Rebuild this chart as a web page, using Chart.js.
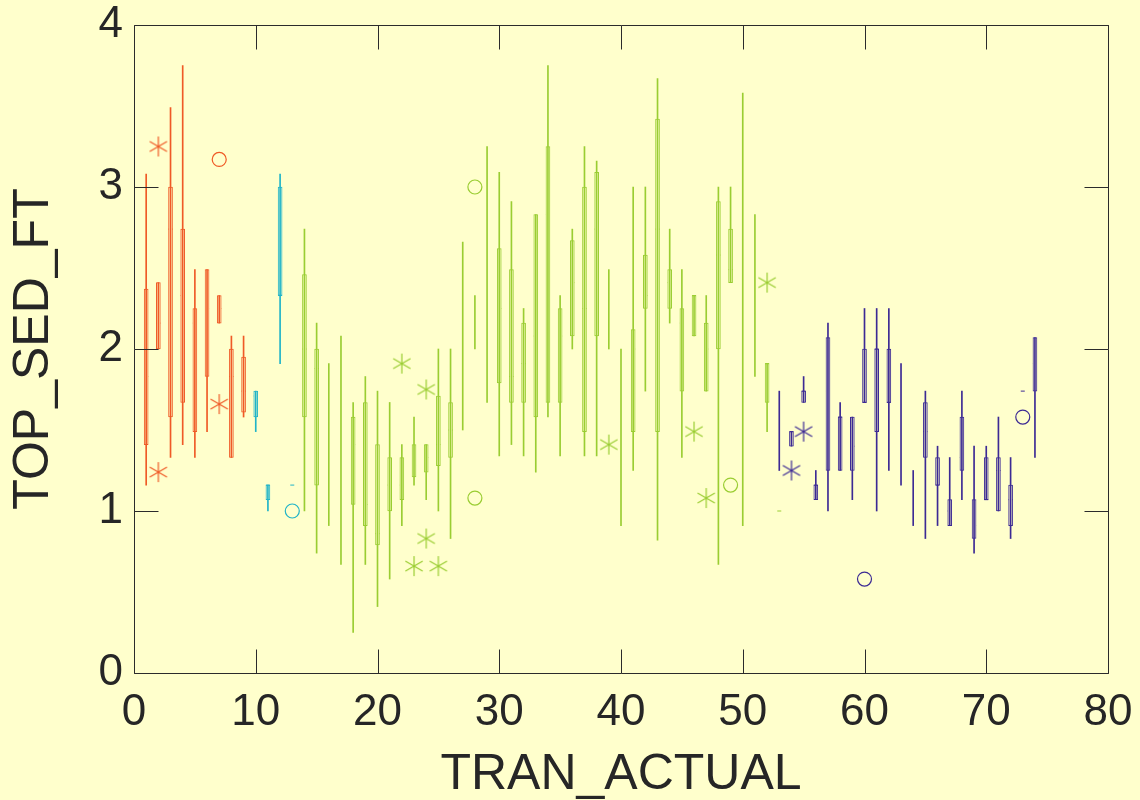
<!DOCTYPE html>
<html>
<head>
<meta charset="utf-8">
<script src="https://cdn.jsdelivr.net/npm/chart.js@4.4.0/dist/chart.umd.min.js"></script>
<style>
  html, body { margin: 0; padding: 0; background: #ffffcc; }
  #wrap { width: 1140px; height: 800px; }
</style>
</head>
<body>
<div id="wrap"><canvas id="chart" width="1140" height="800"></canvas></div>
<script>
// One entry per box: transect, colour group, whisker ends, box ends, median.
// null box = only the whisker shows (box collapsed to a line).
const tran = [1, 2, 3, 4, 5, 6, 7, 8, 9,
  10, 11, 12, 13,
  14, 15, 16, 17, 18, 19, 20, 21, 22, 23, 24, 25, 26, 27, 28, 29, 30, 31, 32, 33,
  34, 35, 36, 37, 38, 39, 40, 41, 42, 43, 44, 45, 46, 47, 48, 49, 50, 51, 52, 53,
  53, 54, 55, 56, 57, 58, 59, 60, 61, 62, 63, 64, 65, 66, 67, 68, 69, 70, 71, 72, 73, 74];
const group = ['r', 'r', 'r', 'r', 'r', 'r', 'r', 'r', 'r',
  'c', 'c', 'c', 'c',
  'g', 'g', 'g', 'g', 'g', 'g', 'g', 'g', 'g', 'g', 'g', 'g', 'g', 'g', 'g', 'g', 'g', 'g', 'g', 'g',
  'g', 'g', 'g', 'g', 'g', 'g', 'g', 'g', 'g', 'g', 'g', 'g', 'g', 'g', 'g', 'g', 'g', 'g', 'g', 'g',
  'p', 'p', 'p', 'p', 'p', 'p', 'p', 'p', 'p', 'p', 'p', 'p', 'p', 'p', 'p', 'p', 'p', 'p', 'p', 'p', 'p', 'p'];
const whiskerLo = [1.16, 2.00, 1.33, 1.41, 1.33, 1.49, 2.16, 1.33, 1.58,
  1.49, 1.00, 1.91, 1.16,
  1.00, 0.74, 0.91, 0.67, 0.25, 0.67, 0.41, 0.58, 0.91, 1.16, 1.07, 1.00, 0.83, 1.50, 2.00, 1.67, 1.34, 1.41, 1.34, 1.24,
  1.58, 1.34, 2.00, 1.34, 1.34, 2.00, 0.91, 1.25, 1.74, 0.82, 2.16, 1.33, 2.08, 1.74, 0.67, 2.41, 0.91, 1.83, 1.49, 1.00,
  1.25, 1.40, 1.67, 1.07, 1.00, 1.25, 1.07, 1.67, 1.00, 1.25, 1.16, 0.91, 0.83, 0.91, 0.91, 1.07, 0.74, 1.07, 1.00, 0.83, 1.74, 1.33];
const whiskerHi = [3.08, 2.41, 3.49, 3.75, 2.49, 2.49, 2.33, 2.08, 2.08,
  1.74, 1.16, 3.08, 1.16,
  2.74, 2.16, 1.91, 2.08, 1.67, 1.83, 1.74, 1.67, 1.41, 1.58, 1.41, 2.00, 2.00, 2.66, 2.33, 3.25, 3.09, 2.91, 2.25, 2.83,
  3.75, 2.33, 2.74, 3.25, 3.16, 2.49, 2.00, 3.00, 3.00, 3.67, 2.74, 2.49, 2.33, 2.33, 3.00, 3.00, 3.58, 2.83, 1.91, 1.00,
  1.74, 1.49, 1.83, 1.25, 2.16, 1.67, 1.58, 2.25, 2.25, 2.25, 1.91, 1.25, 1.74, 1.40, 1.33, 1.74, 1.40, 1.40, 1.58, 1.33, 1.74, 2.07];
const boxLo = [1.41, 2.00, 1.58, 1.67, 1.49, 1.83, 2.16, 1.33, 1.61,
  1.58, 1.07, 2.33, null,
  1.58, 1.16, null, null, 1.04, 0.91, 0.79, 1.00, 1.07, 1.21, 1.24, 1.28, 1.33, null, null, null, 1.79, 1.67, 1.67, 1.58,
  1.67, 1.67, 2.08, 1.49, 2.08, null, null, 1.49, 2.25, 1.49, 2.25, 1.74, 2.08, 1.74, 2.00, 2.41, null, null, 1.67, null,
  null, 1.40, 1.67, 1.07, 1.25, 1.25, 1.25, 1.67, 1.49, 1.67, null, null, 1.33, 1.16, 0.91, 1.25, 0.83, 1.07, 1.00, 0.91, null, 1.74];
const boxHi = [2.37, 2.41, 3.00, 2.74, 2.25, 2.49, 2.33, 2.00, 1.95,
  1.74, 1.16, 3.00, null,
  2.46, 2.00, null, null, 1.58, 1.67, 1.41, 1.33, 1.33, 1.41, 1.41, 1.71, 1.67, null, null, null, 2.62, 2.49, 2.16, 2.83,
  3.25, 2.25, 2.67, 3.00, 3.09, null, null, 2.12, 2.58, 3.42, 2.49, 2.25, 2.33, 2.16, 2.91, 2.74, null, null, 1.91, null,
  null, 1.49, 1.74, 1.16, 2.07, 1.58, 1.58, 2.00, 2.00, 2.00, null, null, 1.67, 1.33, 1.07, 1.58, 1.07, 1.33, 1.33, 1.16, null, 2.07];
const median = [1.83, 2.16, 2.74, 2.33, 2.16, 2.25, 2.25, 1.83, 1.74,
  1.71, 1.16, 2.33, 1.16,
  2.00, 1.88, null, null, 1.41, 1.04, 0.86, 1.16, 1.16, 1.28, 1.33, 1.41, 1.50, null, null, null, 2.25, 1.83, 1.91, 2.08,
  2.83, 2.08, 2.41, 2.25, 2.74, null, null, 2.00, 2.33, 2.74, 2.41, 2.16, 2.33, 2.00, 2.58, 2.49, null, null, 1.91, 1.00,
  null, 1.49, 1.74, 1.16, 1.74, 1.58, 1.40, 1.67, 2.00, 1.67, null, null, 1.49, 1.16, 1.00, 1.33, 0.91, 1.07, 1.25, 1.07, 1.74, 1.91];

// Outliers drawn as asterisks and circles
const starX = [2, 2, 7, 22, 23, 24, 24, 25, 39, 46, 47, 52, 54, 55];
const starY = [3.25, 1.24, 1.66, 1.91, 0.66, 1.75, 0.83, 0.66, 1.41, 1.49, 1.08, 2.41, 1.25, 1.49];
const starGroup = ['r', 'r', 'r', 'g', 'g', 'g', 'g', 'g', 'g', 'g', 'g', 'g', 'p', 'p'];
const circleX = [7, 13, 28, 28, 49, 60, 73];
const circleY = [3.17, 1.00, 3.00, 1.08, 1.16, 0.58, 1.58];
const circleGroup = ['r', 'c', 'g', 'g', 'g', 'p', 'p'];

const xTickValues = [0, 10, 20, 30, 40, 50, 60, 70, 80];
const yTickValues = [0, 1, 2, 3, 4];

const COLORS = { r: '#ef5a26', c: '#20b4c8', g: '#9acd32', p: '#3c2a94' };
const AXIS = '#2b2b2b';
const TEXT = '#262626';
const FONT = "'Liberation Sans', Arial, Helvetica, sans-serif";

// six-armed asterisk marker
function asterisk(color) {
    const c = document.createElement('canvas');
    c.width = c.height = 22;
    const g = c.getContext('2d');
    g.strokeStyle = color;
    g.lineWidth = 1.2;
    g.beginPath();
    for (let k = 0; k < 3; k++) {
        const a = Math.PI / 2 + k * Math.PI / 3;
        g.moveTo(11 - 10 * Math.cos(a), 11 - 10 * Math.sin(a));
        g.lineTo(11 + 10 * Math.cos(a), 11 + 10 * Math.sin(a));
    }
    g.stroke();
    return c;
}

const idx = (g) => tran.map((_, i) => i).filter(i => group[i] === g);

const datasets = [];
Object.keys(COLORS).forEach(g => {
    const col = COLORS[g];
    const ii = idx(g);
    datasets.push({
        type: 'bar',
        data: ii.filter(i => whiskerHi[i] > whiskerLo[i]).map(i => ({ x: tran[i], y: [whiskerLo[i], whiskerHi[i]] })),
        backgroundColor: col,
        borderWidth: 0,
        barThickness: 1,
        grouped: false
    });
    datasets.push({
        type: 'bar',
        data: ii.filter(i => boxLo[i] !== null).map(i => ({ x: tran[i], y: [boxLo[i], boxHi[i]] })),
        backgroundColor: '#ffffcc',
        borderColor: col,
        borderWidth: 1,
        borderSkipped: false,
        barThickness: 4,
        grouped: false
    });
    datasets.push({
        type: 'scatter',
        data: ii.filter(i => median[i] !== null).map(i => ({ x: tran[i], y: median[i] })),
        pointStyle: 'line',
        radius: 2,
        borderColor: col,
        borderWidth: 1
    });
    const star = asterisk(col);
    datasets.push({
        type: 'scatter',
        data: starX.map((x, k) => ({ x, y: starY[k], g: starGroup[k] })).filter(p => p.g === g),
        pointStyle: star,
        radius: 10
    });
    datasets.push({
        type: 'scatter',
        data: circleX.map((x, k) => ({ x, y: circleY[k], g: circleGroup[k] })).filter(p => p.g === g),
        pointStyle: 'circle',
        radius: 7,
        borderColor: col,
        borderWidth: 1.2,
        backgroundColor: 'rgba(0,0,0,0)'
    });
});

// axes box with inward ticks on all four sides
const frame = {
    id: 'frame',
    afterDatasetsDraw(chart) {
        const { ctx, chartArea: a, scales: { x, y } } = chart;
        const L = Math.round(a.left) + 0.5, R = Math.round(a.right) + 0.5;
        const T = Math.round(a.top) + 0.5, B = Math.round(a.bottom) + 0.5;
        const len = 24;
        ctx.save();
        ctx.strokeStyle = AXIS;
        ctx.lineWidth = 1;
        ctx.beginPath();
        ctx.rect(L, T, R - L, B - T);
        xTickValues.forEach(v => {
            const px = Math.round(x.getPixelForValue(v)) + 0.5;
            ctx.moveTo(px, B); ctx.lineTo(px, B - len);
            ctx.moveTo(px, T); ctx.lineTo(px, T + len);
        });
        yTickValues.forEach(v => {
            const py = Math.round(y.getPixelForValue(v)) + 0.5;
            ctx.moveTo(L, py); ctx.lineTo(L + len, py);
            ctx.moveTo(R, py); ctx.lineTo(R - len, py);
        });
        ctx.stroke();
        ctx.restore();
    }
};

new Chart(document.getElementById('chart'), {
    type: 'bar',
    data: { datasets },
    options: {
        responsive: false,
        animation: false,
        devicePixelRatio: 1,
        events: [],
        layout: { padding: { top: 25, right: 32, left: 0, bottom: 0 } },
        plugins: { legend: { display: false }, tooltip: { enabled: false } },
        scales: {
            x: {
                type: 'linear',
                min: 0,
                max: 80,
                offset: false,
                grid: { display: false, drawTicks: false },
                border: { display: false },
                ticks: {
                    stepSize: 10,
                    color: TEXT,
                    padding: 18,
                    font: { family: FONT, size: 44, lineHeight: 1 }
                },
                title: {
                    display: true,
                    text: 'TRAN_ACTUAL',
                    color: TEXT,
                    padding: 0,
                    font: { family: FONT, size: 50, lineHeight: 1 }
                },
                afterFit: s => {
                    s.height = 127;
                    s.paddingLeft = 0;
                    s.paddingRight = 0;
                }
            },
            y: {
                type: 'linear',
                min: 0,
                max: 4,
                grid: { display: false, drawTicks: false },
                border: { display: false },
                ticks: {
                    stepSize: 1,
                    color: TEXT,
                    padding: 11,
                    font: { family: FONT, size: 44, lineHeight: 1 }
                },
                title: {
                    display: true,
                    text: 'TOP_SED_FT',
                    color: TEXT,
                    padding: { top: 9 },
                    font: { family: FONT, size: 50, lineHeight: 1 }
                },
                afterFit: s => {
                    s.width = 134;
                    s.paddingTop = 0;
                    s.paddingBottom = 0;
                }
            }
        }
    },
    plugins: [frame]
});
</script>
</body>
</html>
